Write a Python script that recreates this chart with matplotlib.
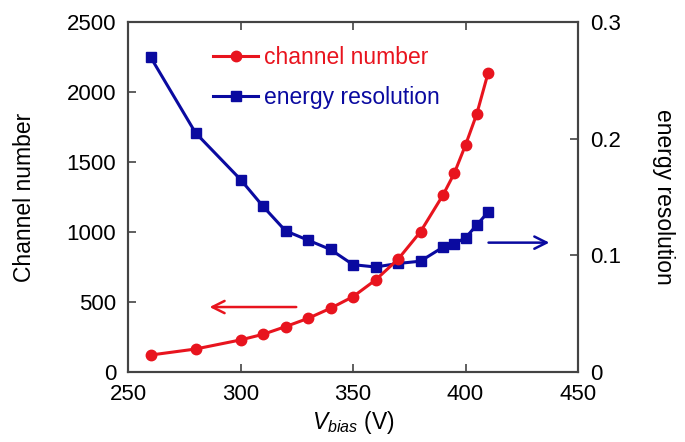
import matplotlib
matplotlib.use('Agg')
import matplotlib.pyplot as plt

plt.rcParams['font.family'] = 'Liberation Sans'
plt.rcParams['mathtext.fontset'] = 'custom'
plt.rcParams['mathtext.it'] = 'Liberation Sans:italic'
plt.rcParams['mathtext.rm'] = 'Liberation Sans'

# bias voltage (V)
v_channel = [260, 280, 300, 310, 320, 330, 340, 350, 360, 370, 380, 390, 395, 400, 405, 410]
channel = [121, 164, 229, 269, 324, 383, 455, 538, 657, 805, 1002, 1264, 1419, 1621, 1843, 2134]

v_res = [260, 280, 300, 310, 320, 330, 340, 350, 360, 370, 380, 390, 395, 400, 405, 410]
resolution = [0.270, 0.205, 0.165, 0.142, 0.121, 0.113, 0.105, 0.092, 0.090, 0.093, 0.095,
              0.107, 0.110, 0.115, 0.126, 0.137]

red = '#e8141e'
blue = '#0a0aa0'
spine = '#444444'

fig = plt.figure(figsize=(6.85, 4.42), dpi=100)
ax = fig.add_axes([0.1869, 0.1584, 0.6569, 0.7918])
ax2 = ax.twinx()

l1, = ax.plot(v_channel, channel, '-o', color=red, lw=2.2, ms=7.5, label='channel number', zorder=3)
l2, = ax2.plot(v_res, resolution, '-s', color=blue, lw=2.2, ms=7.5, label='energy resolution')

ax.set_xlim(250, 450)
ax.set_ylim(0, 2500)
ax2.set_ylim(0, 0.3)
ax.set_xticks([250, 300, 350, 400, 450])
ax.set_yticks([0, 500, 1000, 1500, 2000, 2500])
ax2.set_yticks([0, 0.1, 0.2, 0.3])
ax2.set_yticklabels(['0', '0.1', '0.2', '0.3'])

ax.set_zorder(ax2.get_zorder() + 1)
ax.patch.set_visible(False)

for a in (ax, ax2):
    for s in a.spines.values():
        s.set_color(spine)
        s.set_linewidth(1.5)
    a.tick_params(direction='in', length=6, width=1.2, color=spine, labelsize=16, pad=8.5)
ax.tick_params(top=True)

ax.set_ylabel('Channel number', fontsize=16.5, va='center', ha='center')
ax.yaxis.set_label_coords(-0.229, 0.5)
ax2.set_ylabel('energy resolution', fontsize=16.5, rotation=-90, va='center', ha='center')
ax2.yaxis.set_label_coords(1.189, 0.5)
ax.set_xlabel(r'$V_{bias}$ (V)', fontsize=16.5, va='center', ha='center')
ax.xaxis.set_label_coords(0.5, -0.145)

# direction arrows
ax.annotate('', xy=(285, 464), xytext=(326, 464),
            arrowprops=dict(arrowstyle='->', color=red, lw=1.8, mutation_scale=22))
ax.annotate('', xy=(438.5, 924), xytext=(409, 924),
            arrowprops=dict(arrowstyle='->', color=blue, lw=1.8, mutation_scale=22))

leg = ax.legend(handles=[l1, l2], loc='upper left', bbox_to_anchor=(0.144, 0.991),
                frameon=False, fontsize=16.5, handlelength=1.96, handletextpad=0.26,
                labelspacing=0.76)
for txt, c in zip(leg.get_texts(), (red, blue)):
    txt.set_color(c)

fig.savefig('out.png', dpi=100)
